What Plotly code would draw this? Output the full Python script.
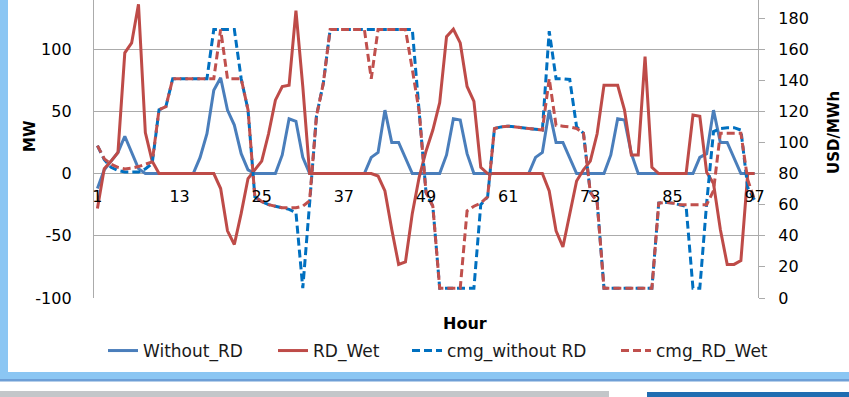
import plotly.graph_objects as go

W, H = 849, 397

hours = list(range(1, 98))

without_rd = [-12, 3, 10, 17, 30, 17, 4, 0, 0, 0,
              0, 0, 0, 0, 0, 13, 32, 67, 77, 51,
              39, 16, 3, 0, 0, 0, 0, 15, 44, 42,
              13, 0, 0, 0, 0, 0, 0, 0, 0, 0,
              13, 17, 51, 25, 25, 13, 0, 0, 0, 0,
              0, 15, 44, 43, 16, 0, 0, 0, 0, 0,
              0, 0, 0, 0, 13, 17, 51, 25, 25, 13,
              0, 0, 0, 0, 0, 15, 44, 43, 16, 0,
              0, 0, 0, 0, 0, 0, 0, 0, 13, 16,
              51, 25, 25, 13, 0, 0, 0]

rd_wet = [-28, 4, 10, 17, 97, 105, 136, 33, 10, 0,
          0, 0, 0, 0, 0, 0, 0, 0, -12, -46,
          -57, -32, -4, 3, 10, 32, 59, 70, 71, 131,
          70, 0, 0, 0, 0, 0, 0, 0, 0, 0,
          0, -2, -14, -45, -73, -71, -32, -3, 18, 35,
          57, 110, 116, 105, 70, 58, 5, 0, 0, 0,
          0, 0, 0, 0, 0, 0, -14, -46, -59, -33,
          -6, 3, 10, 32, 71, 71, 71, 51, 15, 15,
          94, 5, 0, 0, 0, 0, 0, 47, 46, 1,
          -8, -45, -73, -73, -70, 0, 0]

cmg_without_rd = [98, 89, 84, 82, 81, 81, 81, 83, 86.5, 121,
                  123, 141, 141, 141, 141, 141, 141, 172.7, 172.7, 172.7,
                  172.7, 141, 121, 65, 62, 60, 59, 58, 57, 55,
                  6.3, 61, 117, 138, 172.7, 172.7, 172.7, 172.7, 172.7, 172.7,
                  172.7, 172.7, 172.7, 172.7, 172.7, 172.7, 172.7, 120, 68, 59,
                  6.3, 6.3, 6.3, 6.3, 6.3, 6.3, 60, 65, 109, 110,
                  110.5, 110, 109.5, 109, 108.5, 108, 171.6, 141, 141, 140.5,
                  110, 106, 68, 62, 6.3, 6.3, 6.3, 6.3, 6.3, 6.3,
                  6.3, 6.3, 61, 61.5, 61, 60, 59, 6.3, 6.3, 61,
                  107, 109, 109.5, 109.5, 108, 71, 63]

cmg_rd_wet = [98, 89.5, 86, 84, 83, 83.5, 84.5, 86, 87.5, 121,
              123, 141, 141, 141, 141, 141, 141, 141, 172.7, 141,
              141, 141, 121, 65, 62, 60, 59, 58, 58, 58,
              59, 62.5, 117, 138, 172.7, 172.7, 172.7, 172.7, 172.7, 172.7,
              141, 172.7, 172.7, 172.7, 172.7, 172.7, 147, 120, 68, 59,
              6.3, 6.3, 6.3, 6.3, 56, 59, 61, 65, 109, 110,
              110.5, 110, 109.5, 109, 108.5, 108, 141, 111, 110.5, 110,
              109, 106, 68, 62, 6.3, 6.3, 6.3, 6.3, 6.3, 6.3,
              6.3, 6.3, 61, 61.5, 61, 60, 60, 60, 60, 60,
              69, 106, 106, 106, 106, 76, 63]

x_ticks = [1, 13, 25, 37, 49, 61, 73, 85, 97]
mw_ticks = [-100, -50, 0, 50, 100]
mw_labels = ["-100", "-50", "0", "50", "100"]
usd_ticks = [0, 20, 40, 60, 80, 100, 120, 140, 160, 180]
mw_range = [-100, 139.5]
usd_range = [0, 191.6]

FONT = "DejaVu Sans"
BLUE = "#4A7EBB"
RED = "#BE4B48"
DBLUE = "#0070C0"
DRED = "#C0504D"
GRID = "#ABABAB"

def px(x):
    return x / W

def py(y):
    return 1 - y / H

fig = go.Figure()
fig.add_trace(go.Scatter(x=hours, y=without_rd, name="Without_RD", mode="lines",
                         line=dict(color=BLUE, width=3), yaxis="y", legend="legend"))
fig.add_trace(go.Scatter(x=hours, y=rd_wet, name="RD_Wet", mode="lines",
                         line=dict(color=RED, width=3), yaxis="y", legend="legend2"))
fig.add_trace(go.Scatter(x=hours, y=cmg_without_rd, name="cmg_without RD", mode="lines",
                         line=dict(color=DBLUE, width=3, dash="8px,4px"), yaxis="y2", legend="legend3"))
fig.add_trace(go.Scatter(x=hours, y=cmg_rd_wet, name="cmg_RD_Wet", mode="lines",
                         line=dict(color=DRED, width=3, dash="8px,4px"), yaxis="y2", legend="legend4"))

leg_common = dict(orientation="h", yanchor="middle", y=py(351), xanchor="left",
                  font=dict(family=FONT, size=17, color="#1a1a1a"),
                  bgcolor="rgba(0,0,0,0)", borderwidth=0)

shapes = [
    dict(type="rect", xref="paper", yref="paper", x0=0, x1=px(8), y0=py(381), y1=1,
         fillcolor="#8BC6F3", line=dict(width=0), layer="above"),
    dict(type="rect", xref="paper", yref="paper", x0=0, x1=1, y0=py(381), y1=py(372),
         fillcolor="#8BC6F3", line=dict(width=0), layer="above"),
    dict(type="rect", xref="paper", yref="paper", x0=0, x1=1, y0=py(381.5), y1=py(379),
         fillcolor="#6E9FD6", line=dict(width=0), layer="above"),
    dict(type="rect", xref="paper", yref="paper", x0=0, x1=px(609), y0=0, y1=py(391),
         fillcolor="#C3C6C9", line=dict(width=0), layer="above"),
    dict(type="rect", xref="paper", yref="paper", x0=px(647), x1=1, y0=0, y1=py(392),
         fillcolor="#1F6DB1", line=dict(width=0), layer="above"),
]

annotations = [
    dict(text="<b>MW</b>", x=px(30), y=py(136), xref="paper", yref="paper",
         xanchor="center", yanchor="middle",
         textangle=-90, showarrow=False, font=dict(family=FONT, size=15, color="#000")),
    dict(text="<b>USD/MWh</b>", x=px(834), y=py(133), xref="paper", yref="paper",
         xanchor="center", yanchor="middle",
         textangle=-90, showarrow=False, font=dict(family=FONT, size=15, color="#000")),
    dict(text="<b>Hour</b>", x=px(465), y=py(323), xref="paper", yref="paper",
         xanchor="center", yanchor="middle",
         showarrow=False, font=dict(family=FONT, size=16, color="#000")),
]

fig.update_layout(
    width=W, height=H,
    margin=dict(l=0, r=0, t=0, b=0, pad=0, autoexpand=False),
    paper_bgcolor="white", plot_bgcolor="white",
    font=dict(family=FONT, size=16, color="#000"),
    showlegend=True,
    legend=dict(leg_common, x=px(103)),
    legend2=dict(leg_common, x=px(273)),
    legend3=dict(leg_common, x=px(407)),
    legend4=dict(leg_common, x=px(616)),
    xaxis=dict(domain=[px(94), px(758)], range=[0.5, 97.5], anchor="free", position=py(173),
               tickmode="array", tickvals=x_ticks, ticktext=[str(v) for v in x_ticks],
               showgrid=False, showline=False, zeroline=False, ticks="",
               ticklabelstandoff=12, tickfont=dict(family=FONT, size=16, color="#000")),
    yaxis=dict(domain=[py(298), 1], range=mw_range, tickmode="array",
               tickvals=mw_ticks, ticktext=mw_labels,
               showgrid=True, gridcolor=GRID, gridwidth=1.3, zeroline=False,
               showline=True, linecolor=GRID, linewidth=1.3, ticks="",
               ticklabelstandoff=18, tickfont=dict(family=FONT, size=16, color="#000")),
    yaxis2=dict(range=usd_range, overlaying="y", side="right", anchor="x",
                tickmode="array", tickvals=usd_ticks, showgrid=False, zeroline=False,
                showline=True, linecolor=GRID, linewidth=1.3, ticks="outside", ticklen=6,
                tickcolor=GRID, ticklabelstandoff=10,
                tickfont=dict(family=FONT, size=16, color="#000")),
    shapes=shapes,
    annotations=annotations,
)

fig.write_html("out.html")
